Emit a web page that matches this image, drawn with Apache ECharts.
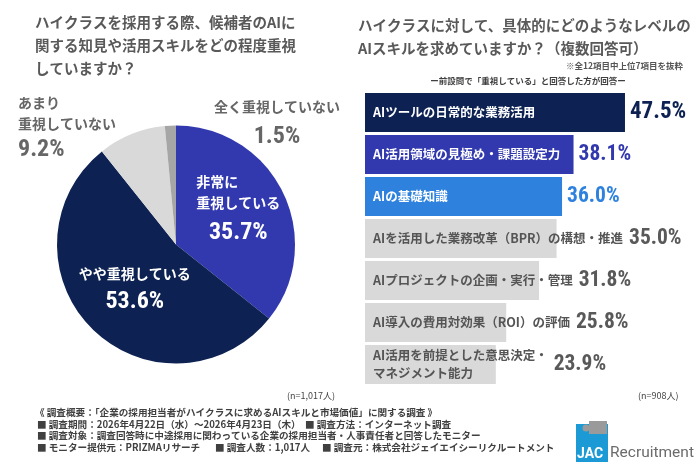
<!DOCTYPE html>
<html><head><meta charset="utf-8">
<script src="https://cdn.jsdelivr.net/npm/echarts@6/dist/echarts.min.js"></script>
<style>html,body{margin:0;padding:0;background:#fff}#c{width:700px;height:467px}</style>
</head><body><div id="c"></div>
<script>
// ---- data ----
const pieNames = ['非常に\n重視している', 'やや重視している', 'あまり\n重視していない', '全く重視していない'];
const pieValues = [35.7, 53.6, 9.2, 1.5];
const barCategories = [
  'AIツールの日常的な業務活用',
  'AI活用領域の見極め・課題設定力',
  'AIの基礎知識',
  'AIを活用した業務改革（BPR）の構想・推進',
  'AIプロジェクトの企画・実行・管理',
  'AI導入の費用対効果（ROI）の評価',
  'AI活用を前提とした意思決定・\nマネジメント能力'
];
const barValues = [47.5, 38.1, 36.0, 35.0, 31.8, 25.8, 23.9];
const leftN = '(n=1,017人)';
const rightN = '(n=908人)';

// ---- styles ----
const NAVY = '#0D2252', BLUE = '#3239AF', SKY = '#2E82DE', LG = '#D9D9D9', DG = '#A6A6A6';
const pieColors = [BLUE, NAVY, LG, DG];
const pieLabelColors = ['#fff', '#fff', '#666', '#666'];
const barColors = [NAVY, BLUE, SKY, LG, LG, LG, LG];
const nameColors = ['#fff', '#fff', '#fff', '#555', '#555', '#555', '#555'];
const valueColors = [NAVY, BLUE, SKY, '#595959', '#595959', '#595959', '#595959'];
const JP = 'Noto Sans CJK JP';
const NUM = '"Roboto Condensed", Roboto, sans-serif';
const NAME_FS = 12.5;

const ctx = document.createElement('canvas').getContext('2d');
function textW(s) {
  ctx.font = 'bold ' + NAME_FS + 'px "Noto Sans CJK JP"';
  return Math.max.apply(null, s.split('\n').map(l => ctx.measureText(l).width));
}

const chart = echarts.init(document.getElementById('c'), null, {renderer: 'canvas'});

const foot = [
  {t: '《 調査概要：「企業の採用担当者がハイクラスに求めるAIスキルと市場価値」に関する調査 》', x: 35, y: 412},
  {t: '■ 調査期間：2026年4月22日（水）～2026年4月23日（木）', x: 37, y: 424},
  {t: '■ 調査方法：インターネット調査', x: 305, y: 424},
  {t: '■ 調査対象：調査回答時に中途採用に関わっている企業の採用担当者・人事責任者と回答したモニター', x: 37, y: 435.5},
  {t: '■ モニター提供元：PRIZMAリサーチ', x: 37, y: 447},
  {t: '■ 調査人数：1,017人', x: 215, y: 447},
  {t: '■ 調査元：株式会社ジェイエイシーリクルートメント', x: 322, y: 447}
];

const graphics = foot.map(f => ({
  type: 'text', x: f.x, y: f.y,
  style: {text: f.t, font: 'bold 9.6px "Noto Sans CJK JP"', fill: '#404040', verticalAlign: 'middle'}
}));
graphics.push(
  {type: 'text', x: 287, y: 396, style: {text: leftN, font: '9px "Noto Sans CJK JP"', fill: '#444', verticalAlign: 'middle'}},
  {type: 'text', x: 638, y: 396, style: {text: rightN, font: '9px "Noto Sans CJK JP"', fill: '#444', verticalAlign: 'middle'}},
  {type: 'text', x: 683, y: 66, style: {text: '※全12項目中上位7項目を抜粋', font: 'bold 8.5px "Noto Sans CJK JP"', fill: '#555', align: 'right', verticalAlign: 'middle'}},
  {type: 'text', x: 528, y: 81, style: {text: 'ー前設問で「重視している」と回答した方が回答ー', font: 'bold 8.5px "Noto Sans CJK JP"', fill: '#404040', align: 'center', verticalAlign: 'middle'}},
  // logo
  {type: 'rect', shape: {x: 576, y: 424, width: 32, height: 38}, style: {fill: '#1C9AD6'}},
  {type: 'rect', shape: {x: 589, y: 421, width: 18, height: 13}, style: {fill: '#9A9A9A'}},
  {type: 'circle', shape: {cx: 586, cy: 428, r: 3.5}, style: {fill: '#9A9A9A'}},
  {type: 'text', x: 577, y: 454, style: {text: 'JAC', font: 'bold 14px Roboto', fill: '#fff', verticalAlign: 'middle'}},
  {type: 'text', x: 610, y: 453, style: {text: 'Recruitment', font: '15.5px Roboto', fill: '#6B6B6B', verticalAlign: 'middle'}}
);

const valStyle = {fontSize: 24, fontWeight: 'bold', fontFamily: NUM};
const option = {
  animation: false,
  backgroundColor: '#fff',
  title: [
    {text: 'ハイクラスを採用する際、候補者のAIに\n関する知見や活用スキルをどの程度重視\nしていますか？', left: 35, top: 11,
     textStyle: {fontSize: 14.5, lineHeight: 23, color: '#595959', fontWeight: 'bold', fontFamily: JP}, padding: 0},
    {text: 'ハイクラスに対して、具体的にどのようなレベルの\nAIスキルを求めていますか？（複数回答可）', left: 358, top: 13.5,
     textStyle: {fontSize: 14.5, lineHeight: 23, color: '#595959', fontWeight: 'bold', fontFamily: JP}, padding: 0}
  ],
  grid: {left: 365, top: 91.5, height: 294, width: 328.4},
  xAxis: {type: 'value', min: 0, max: 60, show: false},
  yAxis: {type: 'category', data: barCategories, inverse: true, show: false},
  graphic: graphics,
  series: [
    {
      type: 'pie', center: [176, 244.5], radius: 119, startAngle: 90, clockwise: true,
      silent: true, avoidLabelOverlap: false,
      data: pieValues.map((v, i) => ({
        name: pieNames[i], value: v,
        itemStyle: {color: pieColors[i]},
        label: {color: pieLabelColors[i], position: i < 2 ? 'inside' : 'outside'},
        labelLine: {show: false}
      })),
      label: {
        show: true, overflow: 'none', alignTo: 'none',
        formatter: p => {
          const nStyle = p.dataIndex === 0 ? 'nl' : 'n';
          const vStyle = ['v0', 'v1', 'v', 'w'][p.dataIndex];
          return p.name.split('\n').map(s => '{' + nStyle + '|' + s + '}').join('\n') + '\n{' + vStyle + '|' + p.value.toFixed(1) + '%}';
        },
        rich: {
          n: {fontSize: 14, fontWeight: 'bold', fontFamily: JP, lineHeight: 21},
          nl: {fontSize: 14, fontWeight: 'bold', fontFamily: JP, lineHeight: 21, align: 'left'},
          v0: Object.assign({lineHeight: 40, align: 'center'}, valStyle),
          v1: Object.assign({lineHeight: 37}, valStyle),
          v: Object.assign({lineHeight: 31}, valStyle),
          w: Object.assign({lineHeight: 38}, valStyle)
        }
      },
      labelLayout: function (p) {
        if (p.dataIndex === 0) return {dx: 6, dy: -5.5};
        if (p.dataIndex === 1) return {dx: 3, dy: 3};
        if (p.dataIndex === 2) return {x: 18, y: 92, align: 'left', verticalAlign: 'top'};
        if (p.dataIndex === 3) return {x: 277, y: 96.5, align: 'center', verticalAlign: 'top'};
        return {};
      }
    },
    {
      type: 'bar', barWidth: 39, silent: true,
      data: barValues.map((v, i) => ({
        value: v, itemStyle: {color: barColors[i]},
        label: {color: valueColors[i], fontSize: i === 0 ? 23 : 21.5}
      })),
      label: {
        show: true, position: 'right', distance: 5,
        formatter: p => p.value.toFixed(1) + '%',
        fontFamily: NUM, fontWeight: 'bold'
      },
      labelLayout: function (p) {
        const i = p.dataIndex;
        const barEnd = p.rect.x + p.rect.width;
        const textEnd = p.rect.x + 8 + textW(barCategories[i]);
        const x = Math.max(barEnd + 5, textEnd + 6);
        return {x: x, y: p.rect.y + p.rect.height / 2, align: 'left', verticalAlign: 'middle'};
      }
    },
    {
      type: 'bar', barWidth: 39, barGap: '-100%', silent: true, z: 3,
      itemStyle: {color: 'transparent'},
      data: barValues.map((v, i) => ({value: v, label: {color: nameColors[i]}})),
      label: {
        show: true, position: 'insideLeft', distance: 8,
        formatter: p => barCategories[p.dataIndex],
        fontFamily: JP, fontWeight: 'bold', fontSize: NAME_FS, lineHeight: 18
      }
    },
    {
      // leader lines for the small pie slices
      type: 'lines', coordinateSystem: null, polyline: true, silent: true, z: 5,
      lineStyle: {color: '#8C8C8C', width: 1, opacity: 1},
      data: [
        {coords: [[131, 151], [125.5, 141.5], [120, 132]]},
        {coords: [[173, 126], [180, 108], [201, 108]]}
      ]
    }
  ]
};
chart.setOption(option);
</script>
</body></html>
